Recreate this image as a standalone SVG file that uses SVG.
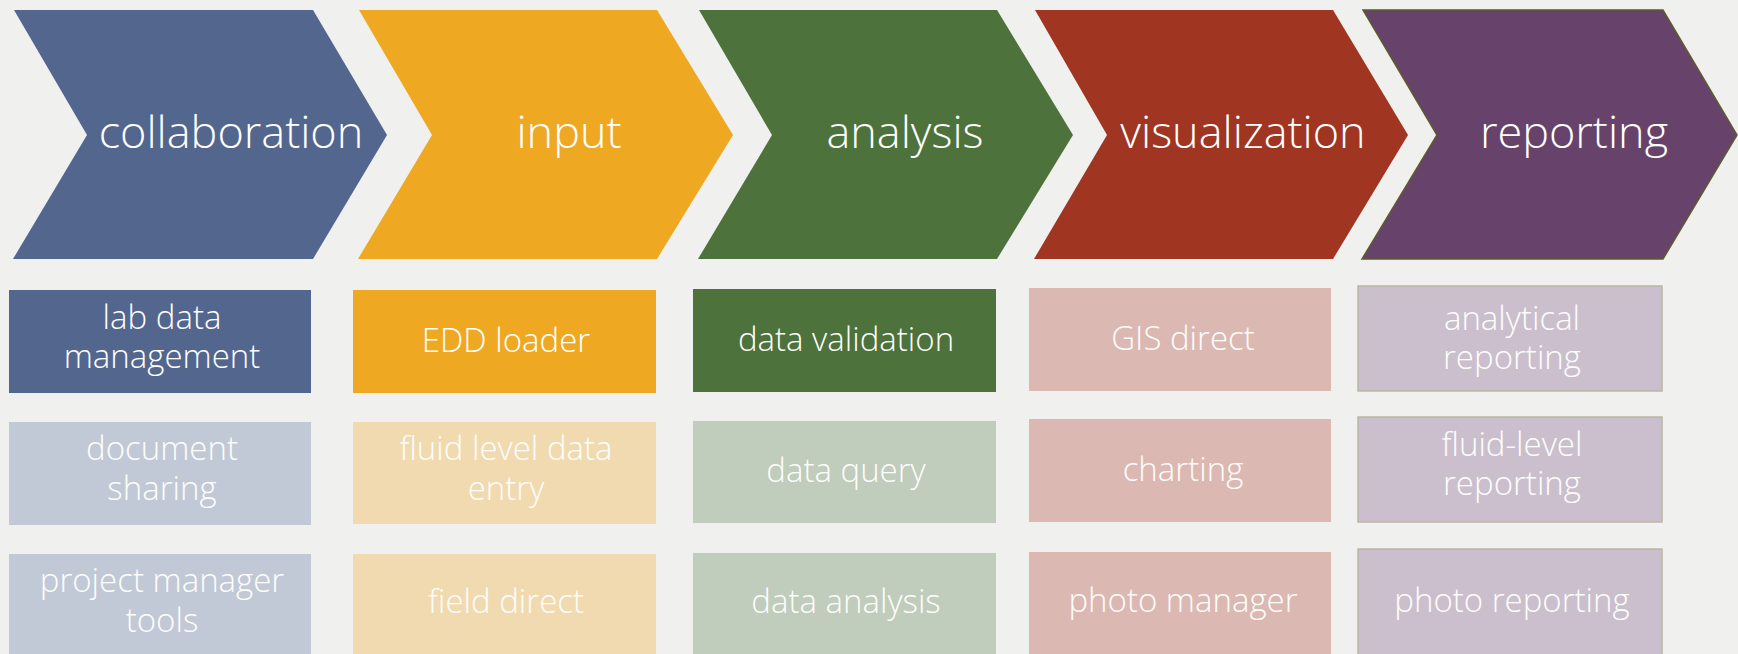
<svg xmlns="http://www.w3.org/2000/svg" width="1738" height="654" viewBox="0 0 1738 654">
<style>
text{font-family:"Open Sans","Noto Sans","Liberation Sans",sans-serif;font-weight:300;fill:#ffffff;text-anchor:middle}
.h{font-size:45px}
.b{font-size:33px}
.lt{fill:#fdfdfb}
</style>
<rect width="1738" height="654" fill="#f0f0ef"/>
<g id="chevrons">
<g id="collaboration"><polygon points="14,10 313,10 387,135 313,259 13,259 87,135" fill="#53668e"/><text class="h" x="231" y="148">collaboration</text></g>
<g id="input"><polygon points="359,10 657,10 733,135 657,259 358,259 432,135" fill="#efa822"/><text class="h" x="569" y="148">input</text></g>
<g id="analysis"><polygon points="699,10 997,10 1073,135 997,259 698,259 772,135" fill="#4e723b"/><text class="h" x="905" y="148">analysis</text></g>
<g id="visualization"><polygon points="1035,10 1333,10 1408,135 1333,259 1034,259 1107,135" fill="#a03522"/><text class="h" x="1243" y="148">visualization</text></g>
<g id="reporting"><polygon points="1363,10 1663,10 1737,135 1663,259 1362,259 1437,135" fill="#67436b" stroke="#5d5a2f" stroke-width="1.5"/><text class="h" x="1574" y="148">reporting</text></g>
</g>
<g id="connectors"></g>
<g id="col1">
<g id="lab-data-management"><rect x="9" y="290" width="302" height="103" fill="#53668e"/><text class="b" x="162" y="329">lab data</text><text class="b" x="162" y="368">management</text></g>
<g id="document-sharing"><rect x="9" y="422" width="302" height="103" fill="#c2c9d6"/><text class="b lt" x="162" y="460">document</text><text class="b lt" x="162" y="500">sharing</text></g>
<g id="project-manager-tools"><rect x="9" y="554" width="302" height="103" fill="#c2c9d6"/><text class="b lt" x="162" y="592">project manager</text><text class="b lt" x="162" y="632">tools</text></g>
</g>
<g id="col2">
<g id="edd-loader"><rect x="353" y="290" width="303" height="103" fill="#efa822"/><text class="b" x="506" y="352">EDD loader</text></g>
<g id="fluid-level-data-entry"><rect x="353" y="422" width="303" height="102" fill="#f2dab0"/><text class="b lt" x="506" y="460">fluid level data</text><text class="b lt" x="506" y="500">entry</text></g>
<g id="field-direct"><rect x="353" y="554" width="303" height="103" fill="#f2dab0"/><text class="b lt" x="506" y="613">field direct</text></g>
</g>
<g id="col3">
<g id="data-validation"><rect x="693" y="289" width="303" height="103" fill="#4e723b"/><text class="b" x="846" y="351">data validation</text></g>
<g id="data-query"><rect x="693" y="421" width="303" height="102" fill="#c0ccbc"/><text class="b lt" x="846" y="482">data query</text></g>
<g id="data-analysis"><rect x="693" y="553" width="303" height="103" fill="#c0ccbc"/><text class="b lt" x="846" y="613">data analysis</text></g>
</g>
<g id="col4">
<g id="gis-direct"><rect x="1029" y="288" width="302" height="103" fill="#dcb8b2"/><text class="b lt" x="1183" y="350">GIS direct</text></g>
<g id="charting"><rect x="1029" y="419" width="302" height="103" fill="#dcb8b2"/><text class="b lt" x="1183" y="481">charting</text></g>
<g id="photo-manager"><rect x="1029" y="552" width="302" height="103" fill="#dcb8b2"/><text class="b lt" x="1183" y="612">photo manager</text></g>
</g>
<g id="col5">
<g id="analytical-reporting"><rect x="1358" y="286" width="304" height="105" fill="#cbbfce" stroke="#b9b7a2" stroke-width="1.5"/><text class="b lt" x="1512" y="330">analytical</text><text class="b lt" x="1512" y="369">reporting</text></g>
<g id="fluid-level-reporting"><rect x="1358" y="417" width="304" height="105" fill="#cbbfce" stroke="#b9b7a2" stroke-width="1.5"/><text class="b lt" x="1512" y="456">fluid-level</text><text class="b lt" x="1512" y="495">reporting</text></g>
<g id="photo-reporting"><rect x="1358" y="549" width="304" height="107" fill="#cbbfce" stroke="#b9b7a2" stroke-width="1.5"/><text class="b lt" x="1512" y="612">photo reporting</text></g>
</g>
</svg>
